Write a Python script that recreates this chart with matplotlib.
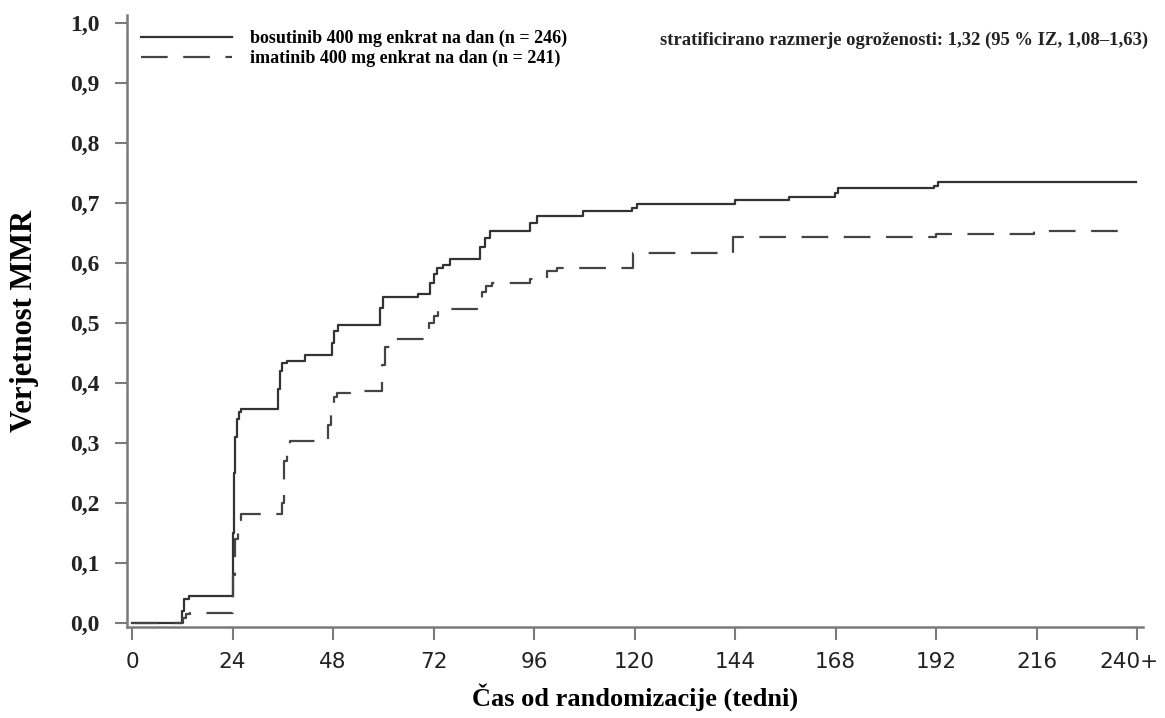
import numpy as np
import matplotlib.pyplot as plt
import matplotlib.transforms as mtransforms
from matplotlib.ticker import FixedLocator

# odčitano s slike (tedni, verjetnost MMR)
bos_t = [0, 11.9, 12.5, 13.5, 24.0, 24.3, 24.6, 25.0, 25.5, 26.0, 34.8, 35.3, 35.8, 37.0,
         41.3, 47.7, 48.3, 49.2, 59.3, 60.0, 68.3, 71.1, 72.0, 72.8, 74.2, 75.9, 83.0,
         84.2, 85.4, 95.0, 96.7, 107.6, 119.3, 120.5, 144.0, 157.0, 167.8, 168.5, 191.6,
         192.5, 239.8]
bos_v = [0, 0.02, 0.04, 0.045, 0.15, 0.25, 0.31, 0.34, 0.352, 0.356, 0.39, 0.42, 0.433,
         0.437, 0.447, 0.467, 0.487, 0.496, 0.525, 0.544, 0.549, 0.566, 0.581, 0.591,
         0.597, 0.607, 0.626, 0.641, 0.653, 0.666, 0.678, 0.686, 0.691, 0.699, 0.705,
         0.710, 0.716, 0.725, 0.729, 0.735, 0.735]

ima_t = [0, 12.2, 13.0, 13.8, 24.2, 24.6, 25.2, 26.0, 35.8, 36.3, 37.0, 37.8, 46.8, 47.5,
         48.2, 49.0, 52.0, 59.8, 60.3, 61.5, 70.0, 71.0, 72.0, 73.0, 82.5, 83.5, 84.5,
         86.0, 95.0, 99.0, 101.4, 119.6, 143.5, 192.0, 215.5, 239.0]
ima_v = [0, 0.008, 0.015, 0.017, 0.08, 0.14, 0.172, 0.182, 0.2, 0.27, 0.297, 0.304,
         0.33, 0.366, 0.376, 0.384, 0.387, 0.43, 0.46, 0.473, 0.486, 0.5, 0.511, 0.523,
         0.536, 0.551, 0.561, 0.567, 0.574, 0.586, 0.591, 0.617, 0.644, 0.649, 0.654,
         0.654]

x_ticks = [0, 24, 48, 72, 96, 120, 144, 168, 192, 216, 240]
x_labels = ['0', '24', '48', '72', '96', '120', '144', '168', '192', '216', '240+']
y_ticks = [0.0, 0.1, 0.2, 0.3, 0.4, 0.5, 0.6, 0.7, 0.8, 0.9, 1.0]
y_labels = ['0,0', '0,1', '0,2', '0,3', '0,4', '0,5', '0,6', '0,7', '0,8', '0,9', '1,0']

serif = 'Liberation Serif'
siva = '#7a7a7a'

fig = plt.figure(figsize=(11.65, 7.18), dpi=100)
ax = fig.add_axes([0.109, 0.1267, 0.872, 0.852])

ax.plot(bos_t, bos_v, drawstyle='steps-post', color='#333333', lw=1.6,
        label='bosutinib 400 mg enkrat na dan (n = 246)')
ax.plot(ima_t, ima_v, drawstyle='steps-post', color='#444444', lw=1.6,
        dashes=(12, 7), label='imatinib 400 mg enkrat na dan (n = 241)')

ax.set_xlim(-1.2, 241.4)
ax.set_ylim(-0.007, 1.013)

ax.xaxis.set_major_locator(FixedLocator(x_ticks))
ax.set_xticklabels(x_labels, fontsize=15.5, family='DejaVu Sans', color='#222222')
ax.yaxis.set_major_locator(FixedLocator(y_ticks))
ax.set_yticklabels(y_labels, fontsize=17, family=serif, weight='bold', color='#222222')
ax.tick_params(axis='x', length=9, width=1.5, color=siva, pad=9)
ax.tick_params(axis='y', length=9, width=1.5, color=siva, pad=11)

# zadnjo oznako malo premaknemo levo, da ne gre čez rob
lbl = ax.get_xticklabels()[-1]
lbl.set_transform(lbl.get_transform() +
                  mtransforms.ScaledTranslation(-8 / 100, 0, fig.dpi_scale_trans))

for s in ['top', 'right']:
    ax.spines[s].set_visible(False)
for s in ['left', 'bottom']:
    ax.spines[s].set_color(siva)
    ax.spines[s].set_linewidth(1.8)

ax.set_xlabel('Čas od randomizacije (tedni)', fontsize=19, family=serif,
              weight='bold', labelpad=8)
ax.set_ylabel('Verjetnost MMR', fontsize=22, family=serif, weight='bold', labelpad=22)

ax.legend(loc='upper left', bbox_to_anchor=(0.0, 1.0), frameon=False,
          prop={'family': serif, 'weight': 'bold', 'size': 13},
          handlelength=5.0, handletextpad=1.0, labelspacing=0.15,
          borderaxespad=0.5, borderpad=0.3)

fig.text(1148 / 1165, 1 - 40 / 718,
         'stratificirano razmerje ogroženosti: 1,32 (95 % IZ, 1,08–1,63)',
         ha='right', va='center', fontsize=13.4, family=serif, weight='bold',
         color='#222222')

fig.savefig('out.png', dpi=100)
